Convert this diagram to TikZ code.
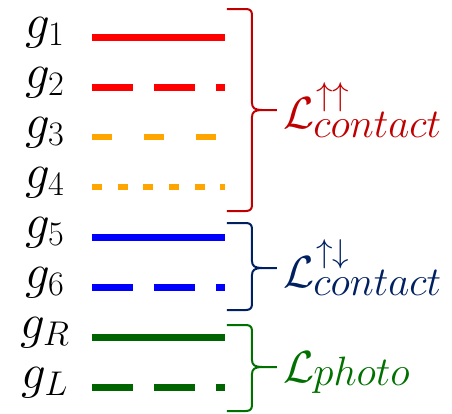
\documentclass[tikz,border=0pt]{standalone}
\usepackage{fix-cm}
\definecolor{lred}{RGB}{255,0,0}
\definecolor{lorange}{RGB}{255,165,0}
\definecolor{lblue}{RGB}{0,0,255}
\definecolor{lgreen}{RGB}{0,100,0}
\definecolor{bred}{RGB}{192,0,0}
\definecolor{bnavy}{RGB}{0,32,96}
\definecolor{bgreen}{RGB}{0,112,0}
\tikzset{
  legline/.style={line width=3.5pt},
  glabel/.style={anchor=base,inner sep=0pt,font=\fontsize{24.5}{29}\selectfont},
  bracestyle/.style={line width=1pt,line join=round},
  bigL/.style={anchor=base west,inner sep=0pt,font=\fontsize{22.5}{27}\selectfont},
  subL/.style={anchor=base west,inner sep=0pt,font=\fontsize{20.5}{24}\selectfont},
  supL/.style={anchor=base west,inner sep=0pt,font=\fontsize{16.5}{20}\selectfont},
}
\newcommand\wbrace[4]{%
  \pgfmathsetmacro\ta{#2+2}\pgfmathsetmacro\tb{#2+6}%
  \pgfmathsetmacro\ma{#3-7}\pgfmathsetmacro\mb{#3-2}%
  \pgfmathsetmacro\mc{#3+2}\pgfmathsetmacro\md{#3+7}%
  \pgfmathsetmacro\ba{#4-2}\pgfmathsetmacro\bb{#4-6}%
  \draw[bracestyle,#1] (227,#2) -- (246,#2) .. controls (250,#2) and (252,\ta) .. (252,\tb) -- (252,\ma) .. controls (252,\mb) and (255,#3) .. (262,#3) -- (277,#3);
  \draw[bracestyle,#1] (262,#3) .. controls (255,#3) and (252,\mc) .. (252,\md) -- (252,\bb) .. controls (252,\ba) and (250,#4) .. (246,#4) -- (227,#4);
}
\begin{document}
\begin{tikzpicture}[x=0.5pt,y=-0.5pt]
\useasboundingbox (0,0) rectangle (452,414);
% labels
\node[glabel] (l1) at (45,38) {$g_1$};
\node[glabel] (l2) at (45,88) {$g_2$};
\node[glabel] (l3) at (45,138) {$g_3$};
\node[glabel] (l4) at (45,188) {$g_4$};
\node[glabel] (l5) at (45,238) {$g_5$};
\node[glabel] (l6) at (45,288) {$g_6$};
\node[glabel] (lR) at (45,338) {$g_R$};
\node[glabel] (lL) at (45,388) {$g_L$};
% lines
\draw[legline,lred] (92,37) -- (225,37);
\draw[legline,lred,dash pattern=on 20.5pt off 10.5pt] (92,87) -- (225,87);
\draw[legline,lorange,line width=3.2pt,dash pattern=on 10.25pt off 15.75pt] (92,137) -- (225,137);
\draw[legline,lorange,line width=3.2pt,dash pattern=on 5pt off 7.85pt] (92,187) -- (225,187);
\draw[legline,lblue] (92,237) -- (225,237);
\draw[legline,lblue,dash pattern=on 20.5pt off 10.5pt] (92,287) -- (225,287);
\draw[legline,lgreen] (92,337) -- (225,337);
\draw[legline,lgreen,dash pattern=on 20.5pt off 10.5pt] (92,387) -- (225,387);
% braces
\wbrace{bred}{9}{110}{211}
\wbrace{bnavy}{223}{268}{310}
\wbrace{bgreen}{325}{367}{411}
% brace labels
\node[bigL,bred] (Lup) at (283,128) {$\mathcal{L}$};
\node[supL,bred] (Lupa) at (316,105) {$\uparrow\uparrow$};
\node[subL,bred] (Lups) at (313,137) {$contact$};
\node[bigL,bnavy] (Lud) at (283,287) {$\mathcal{L}$};
\node[supL,bnavy] (Luda) at (316,262) {$\uparrow\downarrow$};
\node[subL,bnavy] (Luds) at (313,295) {$contact$};
\node[bigL,bgreen] (Lph) at (283,382) {$\mathcal{L}$};
\node[subL,bgreen] (Lphs) at (313,385) {$photo$};
\end{tikzpicture}
\end{document}
